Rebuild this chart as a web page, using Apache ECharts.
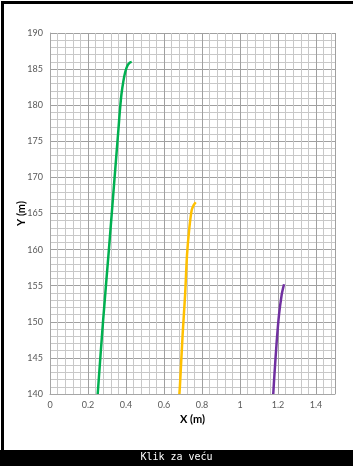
<!DOCTYPE html>
<html><head><meta charset="utf-8">
<script src="https://cdn.jsdelivr.net/npm/echarts@6/dist/echarts.min.js"></script>
<style>html,body{margin:0;padding:0;background:#fff}#c{width:353px;height:466px}</style>
</head><body><div id="c"></div>
<script>
var xTicks = [0, 0.2, 0.4, 0.6, 0.8, 1, 1.2, 1.4];
var yTicks = [140, 145, 150, 155, 160, 165, 170, 175, 180, 185, 190];
var greenX = [0.251, 0.279, 0.310, 0.340, 0.360, 0.367, 0.376, 0.386, 0.396, 0.408, 0.420, 0.430];
var greenY = [140, 150, 160, 170, 176.6, 179, 181.5, 183.3, 184.6, 185.5, 185.9, 186.0];
var orangeX = [0.681, 0.684, 0.698, 0.711, 0.721, 0.733, 0.746, 0.757, 0.767];
var orangeY = [140, 141.2, 148.2, 153.7, 159.2, 162.9, 165.5, 166.2, 166.55];
var purpleX = [1.175, 1.181, 1.193, 1.205, 1.219, 1.227, 1.232];
var purpleY = [140, 142.6, 147.2, 150.9, 153.7, 154.7, 155.2];
var seriesNames = ['green', 'orange', 'purple'];
var seriesColors = ['#00b050', '#ffc000', '#7030a0'];

function pairs(xs, ys) { return xs.map(function (x, i) { return [x, ys[i]]; }); }
var seriesData = [pairs(greenX, greenY), pairs(orangeX, orangeY), pairs(purpleX, purpleY)];

var chart = echarts.init(document.getElementById('c'), null, {renderer: 'canvas'});
var labelFont = {color: '#595959', fontSize: 9, fontFamily: 'Lato, "Liberation Sans", sans-serif'};
chart.setOption({
  animation: false,
  backgroundColor: '#fff',
  grid: {left: 50, right: 18, top: 33, bottom: 72, containLabel: false},
  xAxis: {
    type: 'value', min: 0, max: 1.5, interval: 0.2,
    name: 'X (m)', nameLocation: 'middle', nameGap: 20, nameMoveOverlap: false,
    nameTextStyle: {color: '#000', fontWeight: 'bold', fontSize: 11, fontFamily: 'Lato, sans-serif'},
    axisLine: {show: true, lineStyle: {color: '#a6a6a6', width: 1}},
    axisTick: {show: false},
    axisLabel: Object.assign({margin: 7, formatter: function (v) {
      return xTicks.some(function (t) { return Math.abs(t - v) < 1e-9; }) ? String(+v.toFixed(1)) : '';
    }}, labelFont),
    splitLine: {show: true, lineStyle: {color: '#a0a0a0', width: 1}},
    minorTick: {show: false, splitNumber: 5},
    minorSplitLine: {show: true, lineStyle: {color: '#c8c8c8', width: 1}}
  },
  yAxis: {
    type: 'value', min: 140, max: 190, interval: 5,
    name: 'Y (m)', nameLocation: 'middle', nameGap: 23, nameMoveOverlap: false,
    nameTextStyle: {color: '#000', fontWeight: 'bold', fontSize: 11, fontFamily: 'Lato, sans-serif'},
    axisLine: {show: true, lineStyle: {color: '#a6a6a6', width: 1}},
    axisTick: {show: false},
    axisLabel: Object.assign({margin: 7, formatter: function (v) {
      return yTicks.indexOf(v) >= 0 ? String(v) : '';
    }}, labelFont),
    splitLine: {show: true, lineStyle: {color: '#a0a0a0', width: 1}},
    minorTick: {show: false, splitNumber: 5},
    minorSplitLine: {show: true, lineStyle: {color: '#c8c8c8', width: 1}}
  },
  series: seriesData.map(function (d, i) {
    return {
      name: seriesNames[i], type: 'line', data: d, smooth: 0.25,
      showSymbol: false, symbol: 'none',
      lineStyle: {color: seriesColors[i], width: 2.5}
    };
  }),
  graphic: [
    {type: 'rect', left: 0, top: 0, shape: {width: 353, height: 450},
      style: {fill: 'none', stroke: '#000', lineWidth: 3}, z: 100},
    {type: 'rect', left: 0, top: 450, shape: {width: 353, height: 16},
      style: {fill: '#000'}, z: 100},
    {type: 'text', left: 'center', top: 452,
      style: {text: 'Klik za veću', fill: '#fff', font: '10px "DejaVu Sans Mono", monospace'}, z: 101}
  ]
});
</script></body></html>
